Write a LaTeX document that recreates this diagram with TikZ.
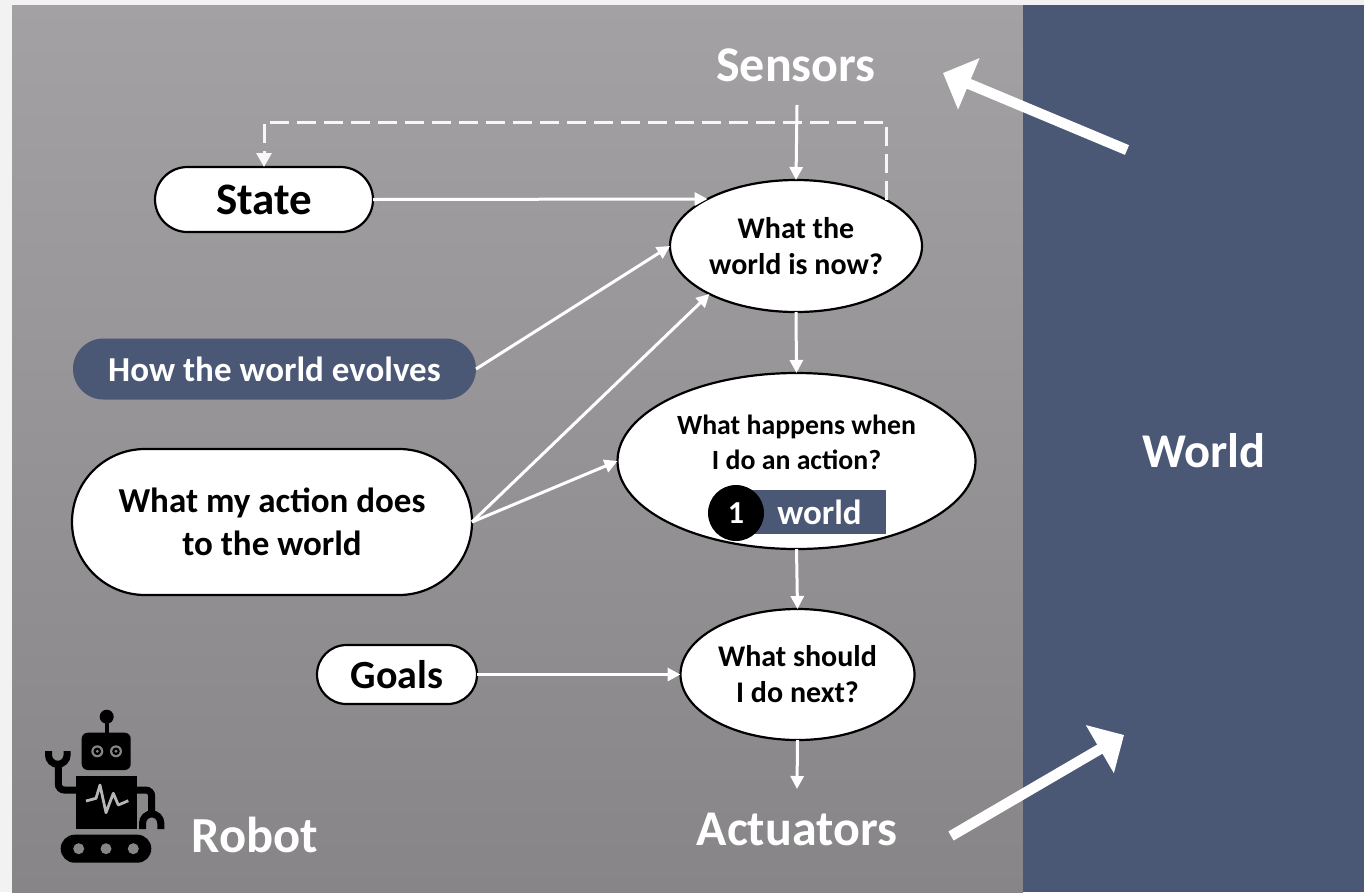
\documentclass[tikz,border=0pt]{standalone}
\usepackage{fontspec}
\setmainfont{Carlito}
\usetikzlibrary{shapes.geometric,shapes.misc,arrows.meta}
\definecolor{pagebg}{HTML}{F2F2F2}
\definecolor{worldblue}{HTML}{4A5775}
\definecolor{gtop}{HTML}{A3A1A3}
\definecolor{gbot}{HTML}{878587}
\newcommand{\fs}[1]{\fontsize{#1}{#1}\selectfont\bfseries}
\tikzset{
  x=1pt,y=-1pt,
  every node/.style={inner sep=0pt,outer sep=0pt,align=center},
  oval/.style={ellipse,draw=black,line width=2.2pt,fill=white,text=black},
  pill/.style={rounded rectangle,draw=black,line width=2.2pt,fill=white,text=black},
  lab/.style={text=white},
  flow/.style={draw=white,line width=3pt,-{Triangle[length=13pt,width=13pt]}},
  dashflow/.style={draw=white!92!gtop,line width=3pt,dash pattern=on 19pt off 8pt,-{Triangle[length=14pt,width=15pt]}},
  big/.style={draw=white,line width=10.5pt,-{Triangle[length=28pt,width=54pt]}},
  robot/.style={draw=black,line width=7pt},
}
\begin{document}
\begin{tikzpicture}
\useasboundingbox (0,0) rectangle (1364,892);
\fill[pagebg] (0,0) rectangle (1364,892);
\shade[top color=gtop,bottom color=gbot] (12,5) rectangle (1023,892);
\fill[worldblue] (1023,5) rectangle (1364,892);

\node[lab,font=\fs{50}] (sensors) at (796,65.5) {Sensors};
\node[lab,font=\fs{50}] (actuators) at (797,829.5) {Actuators};
\node[lab,font=\fs{48.5}] (world) at (1204,451) {World};
\node[lab,font=\fs{50.5}] (robotlab) at (255,834.5) {Robot};

\node[pill,minimum width=218pt,minimum height=65pt,font=\fs{45}] (state) at (264,199.5) {State};
\node[rounded rectangle,fill=worldblue,text=white,minimum width=403pt,minimum height=61pt,font=\fs{35}] (how) at (274.5,369) {How the world evolves};
\node[pill,minimum width=400pt,minimum height=146pt,font=\fs{35}] (action) at (272,522) {What my action does\\[8pt]to the world};
\node[pill,minimum width=160pt,minimum height=59pt,font=\fs{40}] (goals) at (397,674.5) {Goals};

\node[oval,minimum width=252pt,minimum height=132pt,font=\fs{30}] (now) at (796,246) {What the\\[6pt]world is now?};
\node[oval,minimum width=358pt,minimum height=176pt] (happens) at (796.5,461) {};
\node[text=black,font=\fs{27.8}] (happenstxt) at (796.5,442) {What happens when\\[7pt]I do an action?};
\node[oval,minimum width=234pt,minimum height=131pt,font=\fs{30}] (next) at (797.5,674.5) {What should\\[6pt]I do next?};

\node[fill=worldblue,text=white,minimum width=141pt,minimum height=44pt,font=\fs{35}] (badgebar) at (815.5,512) {\hspace*{8pt}world};
\node[circle,fill=black,text=white,minimum size=56pt,font=\fs{32}] (badge) at (736,513) {1};

\coordinate (dc) at (264,122);
\coordinate (senstail) at (797,105);
\coordinate (acthead) at (797,789);
\coordinate (bigA) at (1127,150);
\coordinate (bigAe) at (943,73);
\coordinate (bigB) at (951,836);
\coordinate (bigBe) at (1124,735);

\draw[dashflow] (now.27) |- (dc) -- (state.north);
\draw[flow] (senstail) -- (now.north);
\draw[flow] (state.east) -- (now.152);
\draw[flow] (how.east) -- (now.180);
\draw[flow] (action.east) -- (now.209);
\draw[flow] (action.east) -- (happens.west);
\draw[flow] (now.south) -- (happens.north);
\draw[flow] (happens.south) -- (next.north);
\draw[flow] (goals.east) -- (next.west);
\draw[flow] (next.south) -- (acthead);
\draw[big] (bigA) -- (bigAe);
\draw[big] (bigB) -- (bigBe);

% robot icon
\fill[black] (106.7,716.7) circle (7);
\draw[black,line width=4pt] (106.7,720) -- (106.7,734);
\fill[black,rounded corners=6pt] (81.7,732.7) rectangle (130.7,770);
\foreach \ex in {97.3,116}{
  \fill[gbot] (\ex,751.3) circle (6);
  \fill[black] (\ex,751.3) circle (3.8);
  \fill[gbot] (\ex,751.3) circle (1.6);
}
\fill[black] (76,776) rectangle (136.7,829);
\draw[gbot!60!white,line width=2.8pt,line join=round] (86,801) -- (96,798.3) -- (100,785) -- (106,812.7) -- (113.3,793.3) -- (118.3,805) -- (128.3,800.7);
\draw[robot,rounded corners=6pt] (76,790) -- (58.3,790) -- (58.3,762);
\draw[robot] (48.5,751) -- (48.5,755) arc[start angle=180,end angle=0,radius=9.3] -- (67.1,751);
\draw[robot,rounded corners=6pt] (136.7,790) -- (151.7,790) -- (151.7,814);
\draw[robot] (142.6,829) -- (142.6,823) arc[start angle=180,end angle=360,radius=9.1] -- (160.8,829);
\fill[black,rounded corners=14pt] (60.7,834.7) rectangle (151.3,862.7);
\foreach \wx in {78.7,106,133.3}{\fill[gbot] (\wx,848.7) circle (5.5);}
\end{tikzpicture}
\end{document}
